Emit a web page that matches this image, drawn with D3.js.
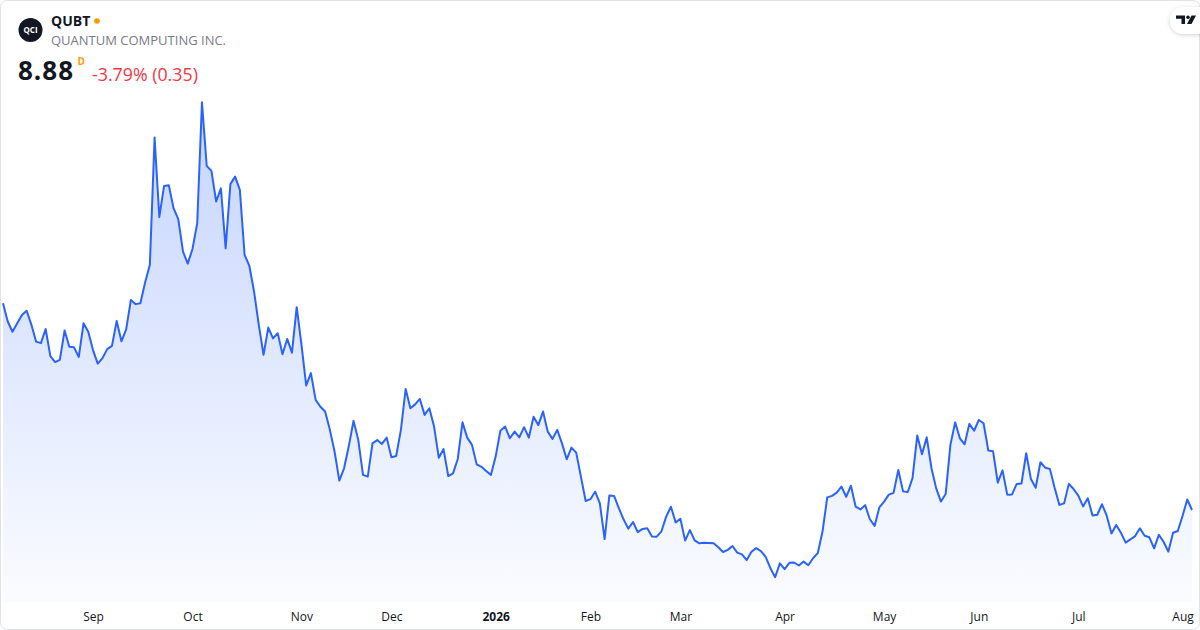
<!DOCTYPE html>
<html>
<head>
<meta charset="utf-8">
<script src="https://cdn.jsdelivr.net/npm/d3@7"></script>
<style>
  html, body { margin: 0; padding: 0; background: #ffffff; }
  #graf { width: 1200px; height: 630px; }
  text { font-family: 'Open Sans', 'DejaVu Sans', sans-serif; }
</style>
</head>
<body>
<div id="graf"></div>
<script>
// Datos: cierres diarios (una barra por dia habil)
precios = [
  15.77, 15.16, 14.82, 15.10, 15.38, 15.52, 15.05, 14.49, 14.44, 14.91,
  14.01, 13.81, 13.88, 14.86, 14.32, 14.30, 13.98, 15.10, 14.82, 14.21,
  13.76, 13.94, 14.24, 14.35, 15.18, 14.50, 14.90, 15.88, 15.74, 15.77,
  16.46, 17.05, 21.29, 18.64, 19.68, 19.70, 18.94, 18.57, 17.49, 17.09,
  17.58, 18.44, 22.47, 20.35, 20.18, 19.16, 19.60, 17.60, 19.74, 19.99,
  19.55, 17.38, 17.02, 16.16, 15.05, 14.05, 14.96, 14.60, 14.77, 14.07,
  14.58, 14.12, 15.64, 14.40, 13.03, 13.44, 12.55, 12.32, 12.16, 11.55,
  10.82, 9.86, 10.27, 11.01, 11.85, 11.21, 10.05, 9.99, 11.10, 11.21,
  11.08, 11.29, 10.64, 10.68, 11.55, 12.91, 12.27, 12.40, 12.58, 12.05,
  12.27, 11.66, 10.62, 10.91, 10.01, 10.10, 10.58, 11.80, 11.29, 11.05,
  10.40, 10.32, 10.18, 10.05, 10.66, 11.52, 11.66, 11.27, 11.49, 11.30,
  11.64, 11.29, 11.99, 11.71, 12.16, 11.49, 11.25, 11.55, 11.10, 10.57,
  10.96, 10.79, 9.99, 9.18, 9.24, 9.49, 9.10, 7.91, 9.36, 9.35,
  8.94, 8.57, 8.26, 8.48, 8.14, 8.25, 8.27, 8.00, 7.99, 8.17,
  8.66, 8.99, 8.46, 8.59, 7.86, 8.21, 7.87, 7.77, 7.79, 7.78,
  7.77, 7.64, 7.48, 7.55, 7.68, 7.46, 7.40, 7.21, 7.49, 7.61,
  7.51, 7.32, 6.94, 6.64, 7.10, 6.91, 7.12, 7.13, 7.03, 7.16,
  7.04, 7.27, 7.44, 8.16, 9.30, 9.35, 9.46, 9.66, 9.32, 9.69,
  8.99, 8.90, 9.04, 8.57, 8.35, 8.97, 9.16, 9.39, 9.45, 10.21,
  9.50, 9.48, 9.94, 11.36, 10.74, 11.30, 10.27, 9.60, 9.16, 9.41,
  11.05, 11.80, 11.27, 11.07, 11.75, 11.52, 11.88, 11.77, 10.86, 10.84,
  9.79, 10.20, 9.39, 9.40, 9.75, 9.76, 10.77, 9.91, 9.62, 10.47,
  10.29, 10.25, 9.62, 9.05, 9.10, 9.75, 9.58, 9.36, 9.00, 9.27,
  8.70, 8.72, 9.07, 8.69, 8.10, 8.38, 8.12, 7.79, 7.90, 8.01,
  8.27, 8.02, 7.97, 7.60, 8.05, 7.82, 7.49, 8.12, 8.18, 8.68,
  9.23, 8.88
]

// Etiquetas de meses y el indice de barra del primer dia habil de cada mes
mesesTexto  = ['Sep', 'Oct', 'Nov', 'Dec', '2026', 'Feb', 'Mar', 'Apr', 'May', 'Jun', 'Jul', 'Aug']
mesesIndice = [19, 40, 63, 82, 104, 124, 143, 165, 186, 206, 227, 249]

// Encabezado
simbolo   = 'QUBT'
empresa   = 'QUANTUM COMPUTING INC.'
ultimo    = '8.88'
cambio    = '-3.79% (0.35)'

ancho_total = 1200
alto_total  = 630
fondoArea   = 602

graf = d3.select('#graf')
svg = graf.append('svg')
          .attr('width', ancho_total)
          .attr('height', alto_total)

defs = svg.append('defs')
grad = defs.append('linearGradient')
           .attr('id', 'relleno')
           .attr('gradientUnits', 'userSpaceOnUse')
           .attr('x1', 0).attr('y1', 100)
           .attr('x2', 0).attr('y2', fondoArea)
grad.append('stop').attr('offset', '0%').attr('stop-color', '#2962ff').attr('stop-opacity', 0.27)
grad.append('stop').attr('offset', '100%').attr('stop-color', '#2962ff').attr('stop-opacity', 0.02)

defs.append('clipPath').attr('id', 'marco')
    .append('rect')
    .attr('x', 1).attr('y', 1)
    .attr('width', ancho_total - 2).attr('height', alto_total - 2)
    .attr('rx', 6)

sombra = defs.append('filter').attr('id', 'sombra')
             .attr('x', '-50%').attr('y', '-50%').attr('width', '200%').attr('height', '200%')
sombra.append('feDropShadow')
      .attr('dx', 0).attr('dy', 1).attr('stdDeviation', 2)
      .attr('flood-color', '#000').attr('flood-opacity', 0.18)

// Escaladores
x = d3.scaleLinear()
      .domain([0, precios.length - 1])
      .range([3, 1192])

y = d3.scaleLinear()
      .domain([5.88, 23.01])
      .range([600, 86])

g = svg.append('g').attr('clip-path', 'url(#marco)')

// Area y linea
area = d3.area()
         .x((d, i) => x(i))
         .y0(fondoArea)
         .y1(d => y(d))

linea = d3.line()
          .x((d, i) => x(i))
          .y(d => y(d))

g.append('path')
 .datum(precios)
 .attr('d', area)
 .attr('fill', 'url(#relleno)')

g.append('path')
 .datum(precios)
 .attr('d', linea)
 .attr('fill', 'none')
 .attr('stroke', '#2962ff')
 .attr('stroke-width', 2)
 .attr('stroke-linejoin', 'round')

// Eje X con los meses
xAxisCall = d3.axisBottom(x)
              .tickValues(mesesIndice)
              .tickSize(0)
              .tickFormat((d, i) => mesesTexto[i])

xAxisGroup = svg.append('g')
                .attr('transform', 'translate(0, 621)')
                .call(xAxisCall)
xAxisGroup.select('.domain').remove()
xAxisGroup.selectAll('text')
          .attr('y', 0)
          .attr('dy', 0)
          .attr('fill', '#131722')
          .style('font-size', '12px')
          .style('font-family', "'Open Sans', sans-serif")
          .style('font-weight', d => d == 104 ? 700 : 400)

// Marco exterior
svg.append('rect')
   .attr('x', 0.5).attr('y', 0.5)
   .attr('width', ancho_total - 1).attr('height', alto_total - 1)
   .attr('rx', 6)
   .attr('fill', 'none')
   .attr('stroke', '#e0e3eb')

// Logo de la empresa
svg.append('circle')
   .attr('cx', 30.5).attr('cy', 30)
   .attr('r', 12)
   .attr('fill', '#131722')
svg.append('text')
   .attr('x', 30.5).attr('y', 33)
   .attr('text-anchor', 'middle')
   .attr('fill', '#ffffff')
   .style('font-size', '8px')
   .style('font-weight', 700)
   .text('QCI')

svg.append('text')
   .attr('x', 51).attr('y', 26)
   .attr('fill', '#131722')
   .style('font-size', '14px')
   .style('font-weight', 700)
   .text(simbolo)
svg.append('circle')
   .attr('cx', 97).attr('cy', 21)
   .attr('r', 2.8)
   .attr('fill', '#ff9800')

svg.append('text')
   .attr('x', 51).attr('y', 45)
   .attr('fill', '#787b86')
   .style('font-size', '13px')
   .text(empresa)

svg.append('text')
   .attr('x', 18).attr('y', 80)
   .attr('fill', '#131722')
   .style('font-size', '26px')
   .style('font-weight', 700)
   .style('letter-spacing', '1px')
   .text(ultimo)
svg.append('text')
   .attr('x', 77.5).attr('y', 65)
   .attr('fill', '#ff9800')
   .style('font-size', '10px')
   .style('font-weight', 700)
   .text('D')
svg.append('text')
   .attr('x', 92).attr('y', 80.5)
   .attr('fill', '#f23645')
   .style('font-size', '17.8px')
   .text(cambio)

// Insignia TradingView arriba a la derecha
svg.append('rect')
   .attr('x', 1170).attr('y', 7)
   .attr('width', 44).attr('height', 27)
   .attr('rx', 13.5)
   .attr('fill', '#ffffff')
   .attr('filter', 'url(#sombra)')
logo = svg.append('g').attr('fill', '#131722')
logo.append('path').attr('d', 'M1176 15.5 H1185 V24 H1181.5 V18.8 H1176 Z')
logo.append('circle').attr('cx', 1188).attr('cy', 17.2).attr('r', 1.8)
logo.append('path').attr('d', 'M1191.5 15.5 H1196 L1191.5 24 H1187 Z')
</script>
</body>
</html>
